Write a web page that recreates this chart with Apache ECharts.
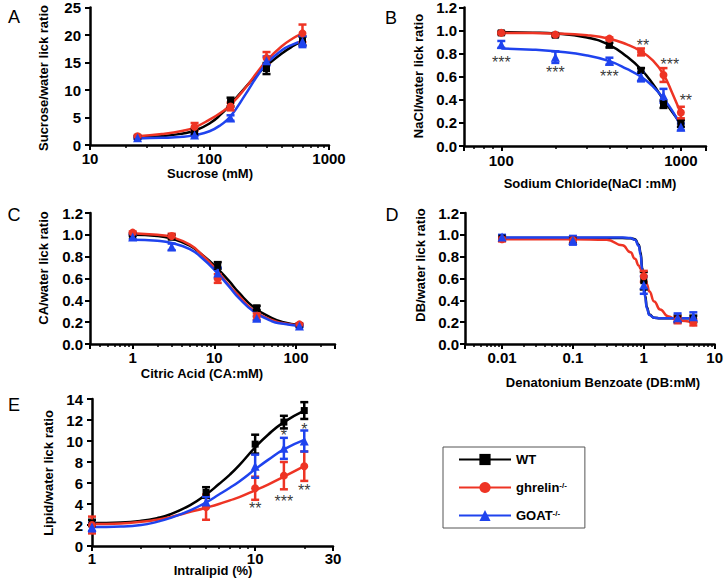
<!DOCTYPE html>
<html><head><meta charset="utf-8">
<script src="https://cdn.jsdelivr.net/npm/echarts@6/dist/echarts.min.js"></script>
<style>html,body{margin:0;padding:0;background:#fff}#c{width:726px;height:582px}</style>
</head><body><div id="c"></div>
<script>
// ---------- Panel A : Sucrose ----------
const A_conc = [25, 75, 150, 300, 600];
const A_WT = [1.4, 2.4, 7.8, 13.9, 18.9];
const A_WT_err = [0.2, 0.5, 0.8, 1.0, 0.8];
const A_GHR = [1.6, 3.3, 7.0, 15.8, 20.3];
const A_GHR_err = [0.2, 0.7, 0.7, 1.1, 1.6];
const A_GOAT = [1.3, 1.8, 4.9, 15.3, 18.8];
const A_GOAT_err = [0.2, 0.2, 0.5, 0.8, 1.0];
const A_fitConc = [25, 40, 60, 75, 100, 125, 150, 200, 250, 300, 400, 500, 600];
const A_WT_fit = [1.4, 1.6, 2.1, 2.6, 3.9, 5.6, 7.4, 10.5, 12.8, 14.4, 16.6, 18.0, 18.9];
const A_GHR_fit = [1.6, 2.0, 2.6, 3.2, 4.6, 5.9, 7.3, 10.4, 13.2, 15.3, 17.9, 19.4, 20.3];
const A_GOAT_fit = [1.2, 1.3, 1.5, 1.8, 2.5, 3.7, 5.2, 9.2, 12.5, 14.8, 17.2, 18.3, 18.9];

// ---------- Panel B : NaCl ----------
const B_conc = [100, 200, 400, 600, 800, 1000];
const B_WT = [0.98, 0.96, 0.874, 0.655, 0.36, 0.195];
const B_WT_err = [0.01, 0.01, 0.02, 0.02, 0.03, 0.03];
const B_GHR = [0.98, 0.965, 0.93, 0.815, 0.615, 0.29];
const B_GHR_err = [0.01, 0.01, 0.01, 0.03, 0.06, 0.05];
const B_GOAT = [0.88, 0.77, 0.735, 0.6, 0.435, 0.165];
const B_GOAT_err = [0.03, 0.05, 0.03, 0.04, 0.06, 0.03];
const B_fitConc = [100, 150, 200, 300, 400, 500, 600, 700, 800, 900, 1000];
const B_WT_fit = [0.985, 0.982, 0.975, 0.94, 0.875, 0.775, 0.665, 0.535, 0.40, 0.29, 0.19];
const B_GHR_fit = [0.98, 0.978, 0.975, 0.96, 0.93, 0.88, 0.82, 0.74, 0.62, 0.45, 0.28];
const B_GOAT_fit = [0.845, 0.835, 0.82, 0.785, 0.735, 0.668, 0.60, 0.515, 0.41, 0.30, 0.17];
const B_stars = [[100, 0.72, '***'], [200, 0.634, '***'], [400, 0.60, '***'], [615, 0.874, '**'], [869, 0.703, '***'], [1066, 0.394, '**']];

// ---------- Panel C : Citric acid ----------
const C_conc = [1, 3, 11, 33, 110];
const C_WT = [1.0, 0.98, 0.72, 0.33, 0.17];
const C_WT_err = [0.01, 0.02, 0.03, 0.02, 0.01];
const C_GHR = [1.02, 0.99, 0.60, 0.25, 0.18];
const C_GHR_err = [0.01, 0.02, 0.04, 0.03, 0.01];
const C_GOAT = [0.98, 0.89, 0.65, 0.235, 0.165];
const C_GOAT_err = [0.02, 0.03, 0.05, 0.02, 0.01];
const C_fitConc = [1, 2, 3, 5, 7, 10, 15, 20, 30, 50, 70, 110];
const C_WT_fit = [1.0, 0.99, 0.965, 0.9, 0.82, 0.72, 0.58, 0.47, 0.34, 0.24, 0.20, 0.175];
const C_GHR_fit = [1.015, 1.0, 0.98, 0.91, 0.82, 0.70, 0.54, 0.44, 0.31, 0.22, 0.19, 0.17];
const C_GOAT_fit = [0.955, 0.945, 0.925, 0.87, 0.79, 0.68, 0.53, 0.42, 0.30, 0.21, 0.185, 0.165];

// ---------- Panel D : Denatonium benzoate ----------
const D_conc = [0.01, 0.1, 1, 3, 5];
const D_WT = [0.97, 0.95, 0.58, 0.23, 0.23];
const D_WT_err = [0.02, 0.03, 0.08, 0.03, 0.03];
const D_GHR = [0.96, 0.95, 0.62, 0.22, 0.20];
const D_GHR_err = [0.02, 0.03, 0.05, 0.03, 0.03];
const D_GOAT = [0.98, 0.95, 0.54, 0.24, 0.25];
const D_GOAT_err = [0.02, 0.04, 0.08, 0.04, 0.04];
const D_fitConc = [0.01, 0.1, 0.3, 0.5, 0.65, 0.75, 0.85, 0.9, 0.95, 1.0, 1.05, 1.1, 1.2, 1.4, 1.7, 2.2, 3, 5];
const D_WT_fit = [0.97, 0.97, 0.97, 0.97, 0.968, 0.96, 0.91, 0.84, 0.70, 0.57, 0.44, 0.34, 0.27, 0.24, 0.235, 0.235, 0.235, 0.235];
const D_GHR_fit = [0.96, 0.96, 0.955, 0.905, 0.84, 0.78, 0.72, 0.69, 0.655, 0.62, 0.585, 0.55, 0.48, 0.39, 0.315, 0.255, 0.215, 0.2];
const D_GOAT_fit = [0.975, 0.975, 0.975, 0.975, 0.97, 0.955, 0.9, 0.82, 0.68, 0.55, 0.42, 0.33, 0.265, 0.24, 0.235, 0.235, 0.235, 0.235];

// ---------- Panel E : Intralipid ----------
const E_conc = [1, 5, 10, 15, 20];
const E_WT = [2.2, 5.1, 9.7, 11.8, 12.9];
const E_WT_err = [0.3, 0.5, 0.9, 0.6, 0.8];
const E_GHR = [2.0, 3.7, 5.5, 6.7, 7.6];
const E_GHR_err = [0.8, 1.2, 1.1, 1.3, 1.4];
const E_GOAT = [1.8, 4.2, 7.6, 9.3, 10.0];
const E_GOAT_err = [0.4, 0.5, 1.1, 1.0, 1.0];
const E_fitConc = [1, 1.5, 2, 2.5, 3, 4, 5, 6, 7, 8, 10, 12, 15, 20];
const E_WT_fit = [2.2, 2.25, 2.4, 2.65, 3.0, 3.9, 4.9, 5.9, 6.8, 7.7, 9.4, 10.6, 11.8, 12.9];
const E_GHR_fit = [2.1, 2.15, 2.3, 2.5, 2.75, 3.25, 3.65, 4.0, 4.35, 4.65, 5.3, 5.85, 6.6, 7.6];
const E_GOAT_fit = [1.8, 1.85, 2.0, 2.3, 2.65, 3.4, 4.15, 4.9, 5.55, 6.15, 7.3, 8.2, 9.2, 10.1];
const E_stars = [[15, 10.5, '*'], [20, 11.1, '*'], [10, 3.6, '**'], [15, 4.2, '***'], [20, 5.3, '**']];

// ---------- legend / genotypes ----------
const genotypes = ['WT', 'ghrelin', 'GOAT'];

const FONT = 'Liberation Sans, Arial, Helvetica, sans-serif';
const COLORS = {WT: '#000000', ghrelin: '#ee3424', GOAT: '#1f43ee'};
const SYMBOLS = {WT: 'rect', ghrelin: 'circle', GOAT: 'triangle'};
const SIZES = {WT: 7, ghrelin: 8, GOAT: 9};

const panels = [
  {conc: A_conc, fitConc: A_fitConc, pts: [A_WT, A_GHR, A_GOAT], err: [A_WT_err, A_GHR_err, A_GOAT_err], fit: [A_WT_fit, A_GHR_fit, A_GOAT_fit], stars: [], mono: false},
  {conc: B_conc, fitConc: B_fitConc, pts: [B_WT, B_GHR, B_GOAT], err: [B_WT_err, B_GHR_err, B_GOAT_err], fit: [B_WT_fit, B_GHR_fit, B_GOAT_fit], stars: B_stars, mono: false},
  {conc: C_conc, fitConc: C_fitConc, pts: [C_WT, C_GHR, C_GOAT], err: [C_WT_err, C_GHR_err, C_GOAT_err], fit: [C_WT_fit, C_GHR_fit, C_GOAT_fit], stars: [], mono: false},
  {conc: D_conc, fitConc: D_fitConc, pts: [D_WT, D_GHR, D_GOAT], err: [D_WT_err, D_GHR_err, D_GOAT_err], fit: [D_WT_fit, D_GHR_fit, D_GOAT_fit], stars: [], mono: true},
  {conc: E_conc, fitConc: E_fitConc, pts: [E_WT, E_GHR, E_GOAT], err: [E_WT_err, E_GHR_err, E_GOAT_err], fit: [E_WT_fit, E_GHR_fit, E_GOAT_fit], stars: E_stars, mono: false}
];

const grids = [
  {left: 90, top: 6, width: 239, height: 139},
  {left: 464, top: 6, width: 242, height: 140},
  {left: 90, top: 213, width: 245, height: 131},
  {left: 465, top: 213, width: 250, height: 131},
  {left: 92, top: 399, width: 241, height: 147}
];
const xCfg = [
  {min: 10, max: 1000, margin: 6, show: v => true},
  {min: 62, max: 1380, margin: 7, show: v => isPow10(v)},
  {min: 0.3, max: 300, margin: 6, show: v => isPow10(v)},
  {min: 0.003, max: 10, margin: 6, show: v => isPow10(v)},
  {min: 1, max: 30, margin: 5, show: v => true}
];
const yCfg = [
  {max: 25, interval: 5, dec: 0, margin: 9},
  {max: 1.2, interval: 0.2, dec: 1, margin: 7},
  {max: 1.2, interval: 0.2, dec: 1, margin: 7},
  {max: 1.2, interval: 0.2, dec: 1, margin: 6},
  {max: 14, interval: 2, dec: 0, margin: 9}
];
function isPow10(v) {
  const l = Math.log10(v);
  return Math.abs(l - Math.round(l)) < 1e-6;
}
function fmt(v) { return String(+(+v).toPrecision(6)); }

const xAxes = [], yAxes = [], series = [];
panels.forEach((p, i) => {
  const xc = xCfg[i], yc = yCfg[i];
  xAxes.push({
    type: 'log', logBase: 10, gridIndex: i, min: xc.min, max: xc.max,
    axisLine: {onZero: false, lineStyle: {color: '#000', width: 2.5}},
    axisTick: {length: 5, lineStyle: {color: '#000', width: 2}},
    minorTick: {show: true, splitNumber: 9, length: 3, lineStyle: {color: '#000', width: 1.5}},
    splitLine: {show: false}, minorSplitLine: {show: false},
    axisLabel: {margin: xc.margin, color: '#000', fontFamily: FONT, fontWeight: 'bold', fontSize: 15,
      showMinLabel: true, showMaxLabel: true,
      formatter: v => xc.show(v) ? fmt(v) : ''}
  });
  yAxes.push({
    type: 'value', gridIndex: i, min: 0, max: yc.max, interval: yc.interval,
    axisLine: {show: true, onZero: false, lineStyle: {color: '#000', width: 2.5}},
    axisTick: {show: true, length: 5, lineStyle: {color: '#000', width: 2}},
    splitLine: {show: false},
    axisLabel: {margin: yc.margin, color: '#000', fontFamily: FONT, fontWeight: 'bold', fontSize: 15,
      formatter: v => (+v).toFixed(yc.dec)}
  });
  genotypes.forEach((g, k) => {
    series.push({
      type: 'line', name: g, xAxisIndex: i, yAxisIndex: i,
      data: p.fitConc.map((c, j) => [c, p.fit[k][j]]),
      smooth: 0.5, smoothMonotone: p.mono ? 'x' : undefined,
      showSymbol: false, symbol: SYMBOLS[g], symbolSize: 9,
      lineStyle: {color: COLORS[g], width: 2.5}, itemStyle: {color: COLORS[g]},
      silent: true, z: 2 + k
    });
    series.push({
      type: 'custom', name: g + ' SEM', xAxisIndex: i, yAxisIndex: i,
      data: p.conc.map((c, j) => [c, p.pts[k][j], p.err[k][j]]),
      encode: {x: 0, y: 1},
      z: 5 + k,
      renderItem: (params, api) => {
        const x = api.value(0), y = api.value(1), e = api.value(2);
        const top = api.coord([x, y + e]), bot = api.coord([x, y - e]);
        const w = 4;
        const st = {stroke: COLORS[g], lineWidth: 2.5};
        return {type: 'group', children: [
          {type: 'line', shape: {x1: top[0], y1: top[1], x2: bot[0], y2: bot[1]}, style: st},
          {type: 'line', shape: {x1: top[0] - w, y1: top[1], x2: top[0] + w, y2: top[1]}, style: st},
          {type: 'line', shape: {x1: bot[0] - w, y1: bot[1], x2: bot[0] + w, y2: bot[1]}, style: st}
        ]};
      }
    });
    series.push({
      type: 'scatter', name: g + ' mean', xAxisIndex: i, yAxisIndex: i,
      data: p.conc.map((c, j) => [c, p.pts[k][j]]),
      symbol: SYMBOLS[g], symbolSize: SIZES[g],
      itemStyle: {color: COLORS[g], opacity: 1}, z: 8 + k
    });
  });
  if (p.stars.length) {
    series.push({
      type: 'scatter', name: 'significance', xAxisIndex: i, yAxisIndex: i,
      data: p.stars.map(s => ({value: [s[0], s[1]], label: {formatter: s[2]}})),
      symbolSize: 1, itemStyle: {color: 'rgba(0,0,0,0)'}, z: 20,
      label: {show: true, position: 'inside', color: '#000', fontFamily: FONT, fontSize: 16}
    });
  }
});

function txt(x, y, text, opts) {
  return Object.assign({type: 'text', x: x, y: y, style: Object.assign({
    text: text, fill: '#000', font: 'bold 13px ' + FONT, textAlign: 'center', textVerticalAlign: 'middle'
  }, opts || {})});
}
function vtxt(x, y, text) {
  const t = txt(x, y, text); t.rotation = Math.PI / 2; return t;
}
const letter = {font: '18px ' + FONT};

const chart = echarts.init(document.getElementById('c'), null, {renderer: 'svg'});
chart.setOption({
  animation: false,
  backgroundColor: '#fff',
  grid: grids,
  xAxis: xAxes,
  yAxis: yAxes,
  series: series,
  legend: {
    data: genotypes, orient: 'vertical', left: 443, top: 447,
    itemWidth: 52, itemHeight: 14, itemGap: 15,
    padding: [6, 18, 6, 15],
    borderColor: '#555', borderWidth: 1,
    selectedMode: false,
    textStyle: {color: '#000', fontFamily: FONT, fontWeight: 'bold', fontSize: 13,
      rich: {n: {color: '#000', fontFamily: FONT, fontWeight: 'bold', fontSize: 13},
             s: {color: '#000', fontFamily: FONT, fontWeight: 'bold', fontSize: 8, verticalAlign: 'top'}}},
    formatter: n => n === 'WT' ? 'WT' : '{n|' + n + '}{s|-/-}'
  },
  graphic: [
    txt(14, 17, 'A', letter), txt(391, 18, 'B', letter), txt(14, 215, 'C', letter),
    txt(392, 215, 'D', letter), txt(14, 405, 'E', letter),
    vtxt(43, 78, 'Sucrose/water lick ratio'),
    vtxt(418, 76, 'NaCl/water lick ratio'),
    vtxt(43, 268, 'CA/water lick ratio'),
    vtxt(420, 265, 'DB/water lick ratio'),
    vtxt(48, 473, 'Lipid/water lick ratio'),
    txt(210, 173, 'Sucrose (mM)'),
    txt(590, 183, 'Sodium Chloride(NaCl :mM)'),
    txt(202, 373, 'Citric Acid (CA:mM)'),
    txt(603, 382, 'Denatonium Benzoate (DB:mM)'),
    txt(213, 570, 'Intralipid (%)')
  ]
});
</script></body></html>
